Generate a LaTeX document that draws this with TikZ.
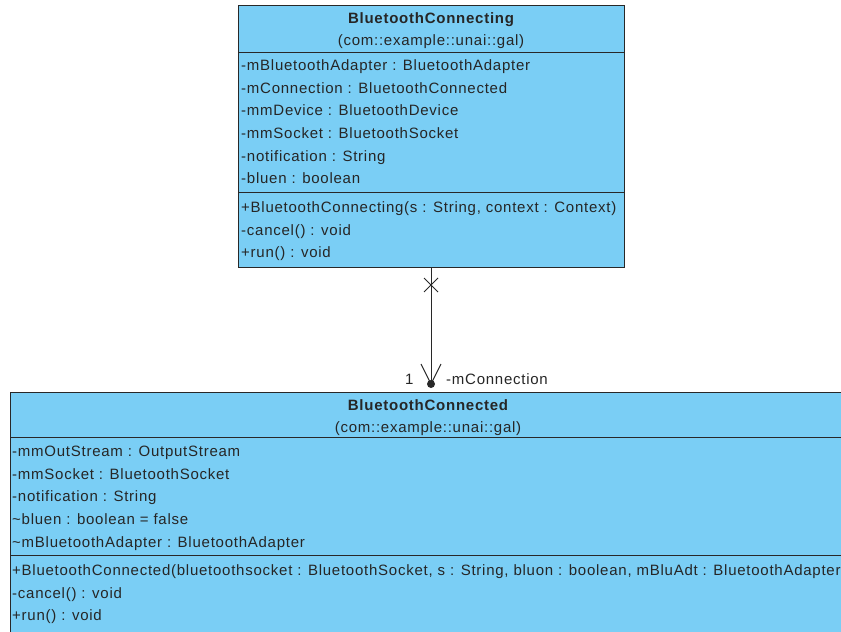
\documentclass[tikz,border=0pt]{standalone}
\usepackage{fontspec}
\setmainfont{Liberation Sans}[LetterSpace=5]
\usetikzlibrary{arrows.meta}
\definecolor{umlfill}{RGB}{122,206,245}
\definecolor{umlline}{RGB}{40,40,40}
\begin{document}
\begin{tikzpicture}[x=1pt,y=-1pt,
  box/.style={draw=umlline,fill=umlfill,line width=1pt},
  sep/.style={draw=umlline,line width=1pt},
  txt/.style={anchor=base west,inner sep=0pt,font=\fontsize{15}{18}\selectfont,text=black!85},
  ttl/.style={anchor=base,inner sep=0pt,font=\fontsize{15}{18}\selectfont\bfseries,text=black!85},
  pkg/.style={anchor=base,inner sep=0pt,font=\fontsize{15}{18}\selectfont,text=black!85},
  conn/.style={draw=umlline,line width=1pt}]
\useasboundingbox (0,0) rectangle (841,632);
\clip (0,0) rectangle (841,632);
% top class
\draw[box] (238,5) rectangle (624,267);
\draw[sep] (238,52.5) -- (624,52.5);
\draw[sep] (238,192) -- (624,192);
\node[ttl] (t1) at (431,23) {BluetoothConnecting};
\node[pkg] (t2) at (431,45) {(com::example::unai::gal)};
\node[txt] (a1) at (241,70.5) {-mBluetoothAdapter : BluetoothAdapter};
\node[txt] (a2) at (241,93.2) {-mConnection : BluetoothConnected};
\node[txt] (a3) at (241,115.8) {-mmDevice : BluetoothDevice};
\node[txt] (a4) at (241,138.4) {-mmSocket : BluetoothSocket};
\node[txt] (a5) at (241,161) {-notification : String};
\node[txt] (a6) at (241,183.5) {-bluen : boolean};
\node[txt] (m1) at (241,212.7) {+BluetoothConnecting(s : String, context : Context)};
\node[txt] (m2) at (241,235) {-cancel() : void};
\node[txt] (m3) at (241,257.3) {+run() : void};
% bottom class
\draw[box] (10,392) rectangle (870,660);
\draw[sep] (10,437) -- (870,437);
\draw[sep] (10,555.5) -- (870,555.5);
\node[ttl] (b1) at (428,410) {BluetoothConnected};
\node[pkg] (b2) at (428,432) {(com::example::unai::gal)};
\node[txt] (c1) at (12,456.7) {-mmOutStream : OutputStream};
\node[txt] (c2) at (12,479.3) {-mmSocket : BluetoothSocket};
\node[txt] (c3) at (12,501.8) {-notification : String};
\node[txt] (c4) at (12,524.5) {\char"7E bluen : boolean = false};
\node[txt] (c5) at (12,547) {\char"7E mBluetoothAdapter : BluetoothAdapter};
\node[txt] (d1) at (12,575.3) {+BluetoothConnected(bluetoothsocket : BluetoothSocket, s : String, bluon : boolean, mBluAdt : BluetoothAdapter)};
\node[txt] (d2) at (12,598) {-cancel() : void};
\node[txt] (d3) at (12,620.6) {+run() : void};
% connector
\coordinate (src) at (431,267);
\coordinate (dst) at (431,384);
\draw[conn] (src) -- (dst);
\draw[conn] (424,278) -- (438,292);
\draw[conn] (438,278) -- (424,292);
\draw[conn] (421,364) -- (dst) -- (441,364);
\fill[umlline] (dst) circle (4);
\node[txt] (mult) at (405,384) {1};
\node[txt] (role) at (446,384) {-mConnection};
\end{tikzpicture}
\end{document}
